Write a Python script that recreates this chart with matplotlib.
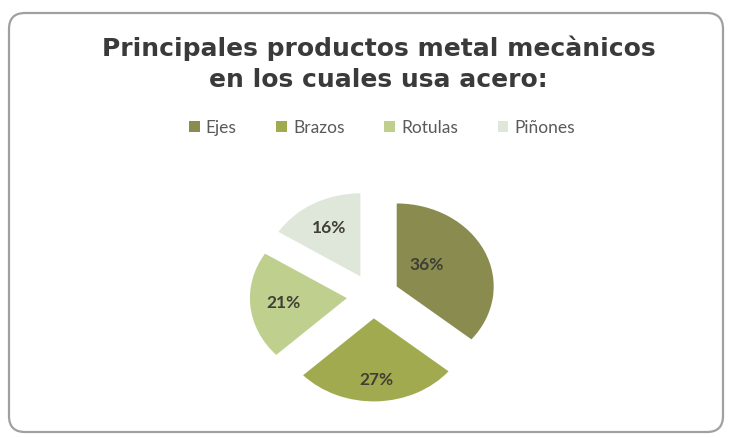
import numpy as np
import matplotlib
matplotlib.use("Agg")
import matplotlib.pyplot as plt
from matplotlib.patches import FancyBboxPatch

# data
categories = ["Ejes", "Brazos", "Rotulas", "Piñones"]
values = [36, 27, 21, 16]
colors = ["#8a8c4f", "#a2aa4f", "#bfd08e", "#dfe6da"]
# radial spot of each percentage label (Excel "best fit" look)
label_dist = [0.40, 0.74, 0.66, 0.66]

title = "Principales productos metal mecànicos\nen los cuales usa acero:"

W, H = 729, 438
fig = plt.figure(figsize=(W / 100, H / 100), dpi=100)

# background frame, in pixel coordinates
bg = fig.add_axes([0, 0, 1, 1])
bg.set_xlim(0, W)
bg.set_ylim(H, 0)
bg.axis("off")
frame = FancyBboxPatch((9, 13), 714, 419, boxstyle="round,pad=0,rounding_size=16",
                       facecolor="white", edgecolor="#a0a0a0", linewidth=1.6)
bg.add_patch(frame)

# pie axes: 1 unit = 97 px wide, 83 px tall (the chart is stretched)
cx, cy = 373, 296
sx, sy = 97, 83
ax = fig.add_axes([0, 0, 1, 1])
ax.patch.set_alpha(0)
explode = [0.27] * len(values)
wedges, _ = ax.pie(values, colors=colors, startangle=90, counterclock=False,
                   explode=explode, radius=1.0,
                   wedgeprops=dict(linewidth=0))
ax.set_aspect("auto")
ax.set_xlim(-cx / sx, (W - cx) / sx)
ax.set_ylim(-(H - cy) / sy, cy / sy)
ax.axis("off")

total = sum(values)
for w, v, d, e in zip(wedges, values, label_dist, explode):
    mid = np.deg2rad((w.theta1 + w.theta2) / 2 + 9 * (v == max(values)))
    r = e + d
    ax.text(r * np.cos(mid), r * np.sin(mid), f"{round(100 * v / total)}%",
            ha="center", va="center", fontsize=12.5, fontweight="bold",
            color="#3f3f35", family="Lato")

fig.text(0.519, 1 - 64 / H, title, ha="center", va="center", fontsize=18,
         fontweight="bold", color="#3a3a3a", linespacing=1.38,
         family="DejaVu Sans")

leg = fig.legend(wedges, categories, loc="center", bbox_to_anchor=(0.524, 1 - 128 / H),
                 ncol=4, frameon=False, handlelength=0.6, handleheight=0.6,
                 handletextpad=0.35, columnspacing=2.3,
                 prop=dict(family="Lato", size=12.5))
for t in leg.get_texts():
    t.set_color("#5a5a5a")

fig.savefig("out.png", dpi=100, facecolor="white")
